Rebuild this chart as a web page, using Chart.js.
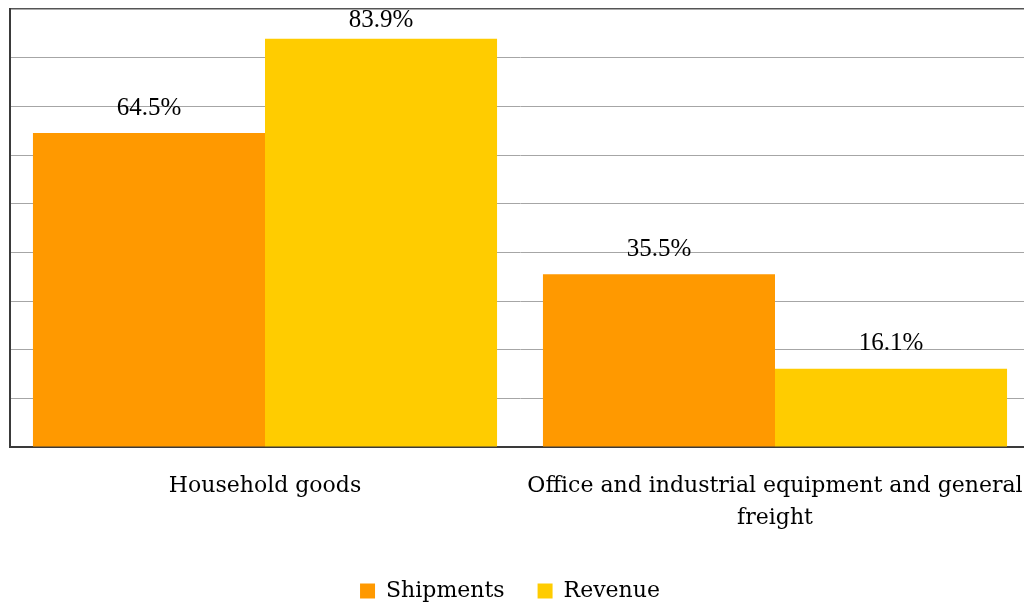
<!DOCTYPE html>
<html>
<head>
<meta charset="utf-8">
<title>Shipments and revenue by cargo type</title>
<script src="https://cdn.jsdelivr.net/npm/chart.js@4/dist/chart.umd.min.js"></script>
<style>
  html, body { margin: 0; padding: 0; background: #fff; }
  #wrap { width: 1024px; height: 608px; overflow: hidden; position: relative; }
  #chart { position: absolute; left: -10px; top: 0; }
</style>
</head>
<body>
<div id="wrap"><canvas id="chart" width="1040" height="608"></canvas></div>
<script>
const categories = ['Household goods', ['Office and industrial equipment and general', 'freight']];
const shipments = [64.5, 35.5];
const revenue = [83.9, 16.1];
const yMin = 0;
const yMax = 90;
const yStep = 10;

const SERIF = "'Liberation Serif', 'DejaVu Serif', serif";
const WIDE_SERIF = "'DejaVu Serif', 'Liberation Serif', serif";

// prints "64.5%" style labels above each bar, kept inside the plot top
const valueLabels = {
  id: 'valueLabels',
  afterDatasetsDraw(chart) {
    const ctx = chart.ctx;
    const top = chart.chartArea.top;
    ctx.save();
    ctx.font = `25px ${SERIF}`;
    ctx.fillStyle = '#000';
    ctx.textAlign = 'center';
    ctx.textBaseline = 'middle';
    chart.data.datasets.forEach((ds, i) => {
      chart.getDatasetMeta(i).data.forEach((bar, j) => {
        const y = Math.max(bar.y - 25, top + 11);
        ctx.fillText(ds.data[j].toFixed(1) + '%', bar.x, y);
      });
    });
    ctx.restore();
  },
};

new Chart(document.getElementById('chart'), {
  type: 'bar',
  data: {
    labels: categories,
    datasets: [
      { label: 'Shipments', data: shipments, backgroundColor: '#ff9900',
        categoryPercentage: 0.91, barPercentage: 1.0 },
      { label: 'Revenue', data: revenue, backgroundColor: '#ffcc00',
        categoryPercentage: 0.91, barPercentage: 1.0 },
    ],
  },
  options: {
    responsive: false,
    animation: false,
    layout: { padding: { top: 9, left: 0, right: 0, bottom: -4 } },
    scales: {
      x: {
        // the long second label would otherwise pull the plot in from the right
        afterFit: (s) => { s.paddingLeft = 0; s.paddingRight = 0; s.height = 100; },
        grid: { display: false, drawTicks: false },
        border: { color: '#3a3a3a', width: 2 },
        ticks: { color: '#000', font: { family: WIDE_SERIF, size: 22, lineHeight: 1.45 },
                 padding: 23, maxRotation: 0, autoSkip: false },
      },
      y: {
        min: yMin, max: yMax,
        afterFit: (s) => { s.width = 20; },
        grid: {
          drawTicks: false,
          color: (c) => (c.tick && c.tick.value === yMax ? '#555' : '#a6a6a6'),
          lineWidth: (c) => (c.tick && c.tick.value === yMax ? 1.5 : 1),
        },
        border: { color: '#3a3a3a', width: 2 },
        ticks: { display: false, stepSize: yStep },
      },
    },
    plugins: {
      legend: {
        position: 'bottom',
        labels: { color: '#000', font: { family: WIDE_SERIF, size: 22, lineHeight: 0.6 },
                  boxWidth: 15, boxHeight: 15, padding: 33 },
      },
      tooltip: { enabled: false },
    },
  },
  plugins: [valueLabels],
});
</script>
</body>
</html>
